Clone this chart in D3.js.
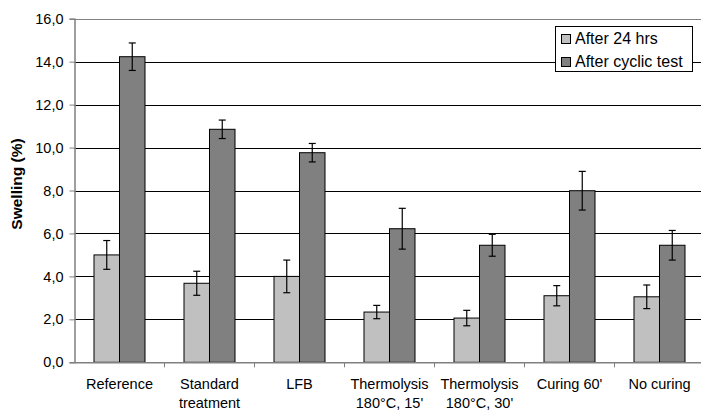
<!DOCTYPE html>
<html><head><meta charset="utf-8">
<script src="https://cdn.jsdelivr.net/npm/d3@7"></script>
<style>body{margin:0;background:#fff}svg{display:block;font-family:"Liberation Sans",Arial,sans-serif}</style>
</head><body>
<script>
const categories = [["Reference"],["Standard","treatment"],["LFB"],["Thermolysis","180°C, 15'"],["Thermolysis","180°C, 30'"],["Curing 60'"],["No curing"]];
const seriesNames = ["After 24 hrs","After cyclic test"];
const after24 = [5.0, 3.68, 4.0, 2.34, 2.06, 3.1, 3.05];
const after24Err = [0.67, 0.56, 0.76, 0.31, 0.36, 0.47, 0.55];
const afterCyclic = [14.23, 10.85, 9.76, 6.22, 5.45, 7.99, 5.45];
const afterCyclicErr = [0.64, 0.43, 0.43, 0.95, 0.51, 0.9, 0.69];
const yTicks = [0,2,4,6,8,10,12,14,16];
const colors = ["#C0C0C0","#808080"];

(function(){
const W=701,H=410;
const svg=d3.select("body").append("svg").attr("width",W).attr("height",H);
const mLeft=74.5, mTop=18.7, mBottom=362.3, catW=90;
const mRight=mLeft+catW*categories.length;
const y=d3.scaleLinear().domain([0,16]).range([mBottom,mTop]);
const x=d3.scaleBand().domain(d3.range(categories.length)).range([mLeft,mRight]);
const gw=51;
const xs=d3.scaleBand().domain([0,1]).range([0,gw]);

svg.append("g").selectAll("line").data(yTicks.filter(t=>t>0&&t<16)).join("line")
 .attr("x1",mLeft).attr("x2",mRight).attr("y1",d=>Math.round(y(d))+0.5).attr("y2",d=>Math.round(y(d))+0.5)
 .attr("stroke","#000").attr("stroke-width",1);
svg.append("line").attr("x1",mLeft).attr("x2",mRight).attr("y1",Math.round(y(16))+0.5).attr("y2",Math.round(y(16))+0.5).attr("stroke","#808080");

const data=[after24,afterCyclic], errs=[after24Err,afterCyclicErr];
data.forEach((vals,s)=>{
  svg.append("g").selectAll("rect").data(vals).join("rect")
   .attr("x",(d,i)=>x(i)+catW/2-gw/2+xs(s)).attr("width",xs.bandwidth())
   .attr("y",d=>y(d)).attr("height",d=>y(0)-y(d))
   .attr("fill",colors[s]).attr("stroke","#000").attr("stroke-width",1);
});
data.forEach((vals,s)=>{
  const g=svg.append("g").attr("stroke","#000").attr("stroke-width",1.2);
  vals.forEach((v,i)=>{
    const cx=x(i)+catW/2-gw/2+xs(s)+xs.bandwidth()/2;
    const e=errs[s][i];
    g.append("line").attr("x1",cx).attr("x2",cx).attr("y1",y(v+e)).attr("y2",y(v-e));
    g.append("line").attr("x1",cx-3.5).attr("x2",cx+3.5).attr("y1",y(v+e)).attr("y2",y(v+e));
    g.append("line").attr("x1",cx-3.5).attr("x2",cx+3.5).attr("y1",y(v-e)).attr("y2",y(v-e));
  });
});

const ya=svg.append("g").attr("transform",`translate(${mLeft},0)`)
 .call(d3.axisLeft(y).tickValues(yTicks).tickSize(5).tickPadding(6).tickFormat(d=>d3.format(".1f")(d).replace(".",",")));
ya.select(".domain").attr("stroke","#808080").attr("stroke-width",1.5);
ya.selectAll(".tick line").attr("stroke","#808080");
ya.selectAll("text").attr("font-size","14.5px").attr("fill","#000").attr("font-family","Liberation Sans, Arial, sans-serif");

const xa=svg.append("g").attr("transform",`translate(0,${mBottom})`)
 .call(d3.axisBottom(x).tickSize(0).tickFormat(""));
xa.select(".domain").attr("stroke","#808080").attr("stroke-width",1.5);
svg.append("g").selectAll("line").data(d3.range(1,categories.length)).join("line")
 .attr("x1",i=>x(i)).attr("x2",i=>x(i)).attr("y1",mBottom).attr("y2",mBottom+5).attr("stroke","#808080");
const lab=svg.append("g").attr("font-size","14.5px").attr("text-anchor","middle").attr("fill","#000");
categories.forEach((c,i)=>{
  c.forEach((t,j)=>{
    lab.append("text").attr("x",x(i)+catW/2).attr("y",389+j*18.7).text(t);
  });
});

svg.append("text").attr("transform","translate(22,184) rotate(-90)").attr("text-anchor","middle")
 .attr("font-weight","bold").attr("font-size","15.5px").text("Swelling (%)");

const lg=svg.append("g");
lg.append("rect").attr("x",555.5).attr("y",26.5).attr("width",137).attr("height",45).attr("fill","#fff").attr("stroke","#000");
seriesNames.forEach((n,i)=>{
  lg.append("rect").attr("x",561.5).attr("y",34.5+i*23).attr("width",9).attr("height",9).attr("fill",colors[i]).attr("stroke","#000");
  lg.append("text").attr("x",575).attr("y",44+i*23).attr("font-size","16px").text(n);
});
})();
</script>
</body></html>
